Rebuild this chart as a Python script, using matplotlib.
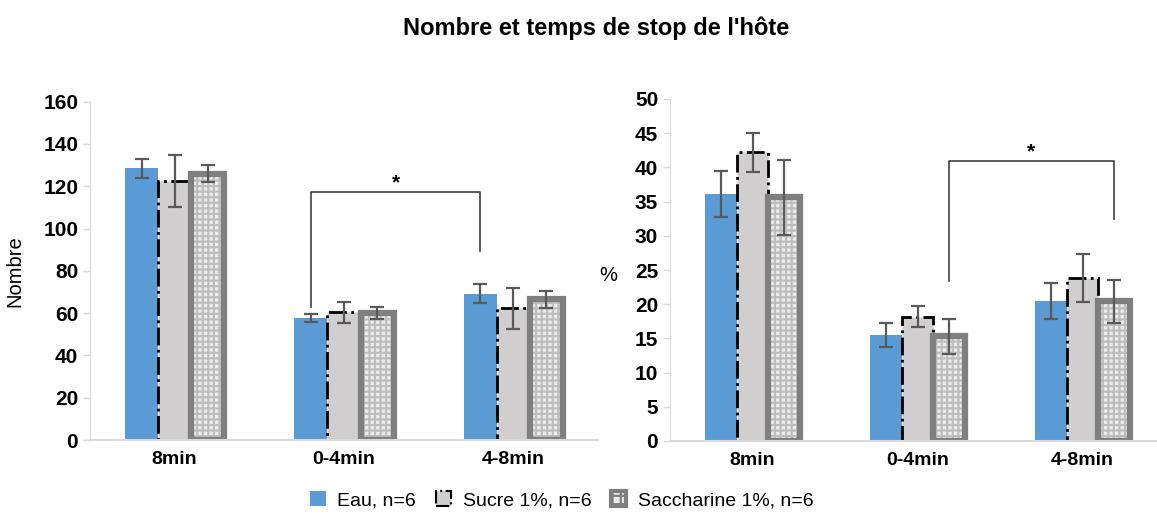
import matplotlib
matplotlib.use("Agg")
import matplotlib.pyplot as plt
import matplotlib.patches as mpatches
import numpy as np

plt.rcParams["font.family"] = ["Liberation Sans", "DejaVu Sans"]
plt.rcParams["hatch.linewidth"] = 1.6

categories = ["8min", "0-4min", "4-8min"]
series = ["Eau, n=6", "Sucre 1%, n=6", "Saccharine 1%, n=6"]

# left panel: number of stops
nombre_eau = [128.5, 57.8, 69.2]
nombre_eau_err = [4.6, 1.9, 4.5]
nombre_sucre = [122.5, 60.5, 62.2]
nombre_sucre_err = [12.5, 5.0, 9.5]
nombre_sacch = [126.0, 60.0, 66.6]
nombre_sacch_err = [4.1, 3.0, 4.0]

# right panel: stop time (%)
temps_eau = [36.1, 15.5, 20.5]
temps_eau_err = [3.4, 1.7, 2.65]
temps_sucre = [42.2, 18.2, 23.8]
temps_sucre_err = [2.85, 1.55, 3.5]
temps_sacch = [35.6, 15.3, 20.4]
temps_sacch_err = [5.5, 2.55, 3.1]

BLUE = "#5B9BD5"
LGRAY = "#D0CECE"
DGRAY = "#7F7F7F"
ERR = "#595959"
AXC = "#D9D9D9"
CHECK_FACE = "#ECECEC"
CHECK_HATCH = "#BEBEBE"


def draw_panel(ax, eau, eau_err, sucre, sucre_err, sacch, sacch_err, width):
    x = np.arange(len(categories))
    ax.bar(x - width, eau, width, color=BLUE, linewidth=0)
    ax.bar(x, sucre, width, color=LGRAY, edgecolor="black", linestyle="-.", linewidth=2)
    ax.bar(x + width, sacch, width, color=CHECK_FACE, edgecolor=CHECK_HATCH, hatch="+++", linewidth=0)
    ax.bar(x + width, sacch, width, fill=False, edgecolor=DGRAY, linewidth=4.5)
    for off, vals, errs in [(-width, eau, eau_err), (0, sucre, sucre_err), (width, sacch, sacch_err)]:
        ax.errorbar(x + off, vals, yerr=errs, fmt="none", ecolor=ERR, elinewidth=1.6,
                    capsize=5, capthick=1.6, zorder=5)
    ax.set_xlim(-0.5, len(categories) - 0.5)
    ax.set_xticks(x)
    ax.set_xticklabels(categories, fontsize=14, fontweight="bold")
    ax.tick_params(axis="x", length=0, pad=8)
    ax.tick_params(axis="y", colors=AXC, labelcolor="black", labelsize=15, length=5, width=1)
    for lab in ax.get_yticklabels():
        lab.set_fontweight("bold")
    for s in ["top", "right"]:
        ax.spines[s].set_visible(False)
    ax.spines["left"].set_color(AXC)
    ax.spines["bottom"].set_color(AXC)
    ax.spines["bottom"].set_linewidth(1.5)
    return x


def bracket(ax, x0, x1, y_top, y0, y1):
    ax.plot([x0, x0, x1, x1], [y0, y_top, y_top, y1], color="#404040", linewidth=1.2, zorder=6)
    ax.text((x0 + x1) / 2, y_top, "*", ha="center", va="bottom", fontsize=15, fontweight="bold")


fig = plt.figure(figsize=(11.57, 5.17), dpi=100)
W, H = 1157, 517

ax1 = fig.add_axes([90 / W, (H - 440) / H, 508 / W, (440 - 101.7) / H])
w1 = 0.195
draw_panel(ax1, nombre_eau, nombre_eau_err, nombre_sucre, nombre_sucre_err,
           nombre_sacch, nombre_sacch_err, w1)
ax1.set_ylim(0, 160)
ax1.set_yticks(np.arange(0, 161, 20))
ax1.set_ylabel("Nombre", fontsize=14.5)
ax1.yaxis.set_label_coords(-0.13, 0.5)
bracket(ax1, 1 - w1, 2 - w1, 117.3, 63, 89.4)

ax2 = fig.add_axes([670 / W, (H - 441) / H, 495 / W, (441 - 99) / H])
w2 = 0.19
draw_panel(ax2, temps_eau, temps_eau_err, temps_sucre, temps_sucre_err,
           temps_sacch, temps_sacch_err, w2)
ax2.set_ylim(0, 50)
ax2.set_yticks(np.arange(0, 51, 5))
ax2.set_ylabel("%", fontsize=14.5, rotation=0, va="center")
ax2.yaxis.set_label_coords(-0.125, 0.485)
bracket(ax2, 1 + w2, 2 + w2, 40.9, 23.4, 32.5)

fig.suptitle("Nombre et temps de stop de l'hôte", x=596 / W, y=1 - 17 / H, va="top",
             fontsize=17, fontweight="bold")

handles = [
    mpatches.Patch(facecolor=BLUE, linewidth=0),
    mpatches.Patch(facecolor=LGRAY, edgecolor="black", linestyle="-.", linewidth=1.5),
    mpatches.Patch(facecolor=CHECK_FACE, edgecolor=DGRAY, hatch="++", linewidth=3),
]
fig.legend(handles, series, loc="center", bbox_to_anchor=(562 / W, 1 - 500 / H), ncol=3,
           frameon=False, fontsize=14, handlelength=0.8, handleheight=0.8,
           handletextpad=0.6, columnspacing=1.0)

fig.savefig("out.png", dpi=100)
